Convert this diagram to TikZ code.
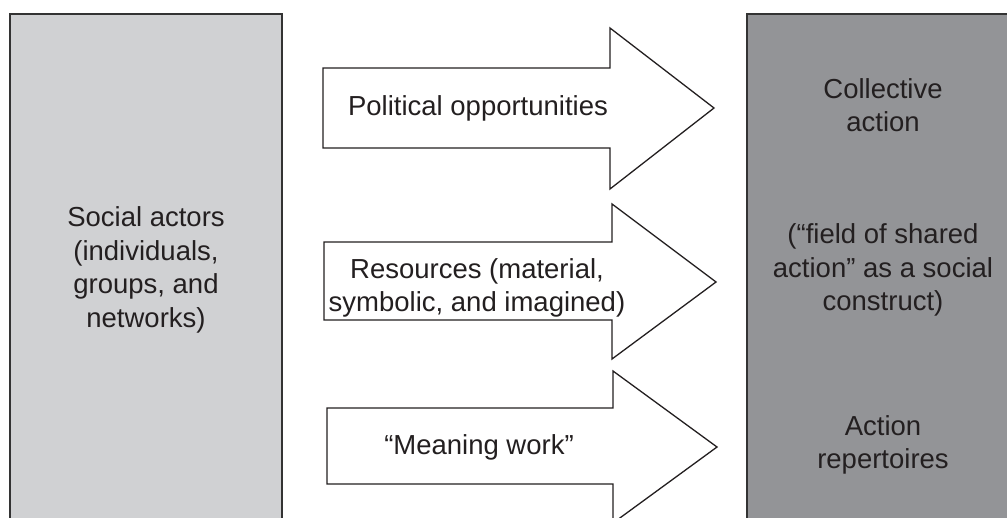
\documentclass[tikz,border=0pt]{standalone}
\usepackage{fontspec}
\setmainfont{Liberation Sans}
\definecolor{inkc}{HTML}{231F20}
\definecolor{lightbox}{HTML}{D0D1D3}
\definecolor{darkbox}{HTML}{939497}
\definecolor{edgec}{HTML}{333333}
\begin{document}
\begin{tikzpicture}[x=1pt,y=-1pt,
  boxstyle/.style={draw=edgec,line width=2pt},
  arrowshape/.style={draw=inkc,fill=white,line width=1.3pt,line join=miter},
  lbl/.style={text=inkc,align=center,font=\fontsize{27.5}{33.5}\selectfont,inner sep=0pt}]
\useasboundingbox (0,0) rectangle (1007,517);
\clip (0,0) rectangle (1007,517);
% boxes
\draw[boxstyle,fill=lightbox] (10,13.5) rectangle (282,530);
\draw[boxstyle,fill=darkbox] (747,14) rectangle (1020,530);
% arrows
\draw[arrowshape] (323,68) -- (610,68) -- (610,28) -- (714,108) -- (610,189) -- (610,148) -- (323,148) -- cycle;
\draw[arrowshape] (324,242) -- (612,242) -- (612,204) -- (716,282) -- (612,359) -- (612,320) -- (324,320) -- cycle;
\draw[arrowshape] (327,408) -- (613,408) -- (613,371) -- (717,447) -- (613,523) -- (613,484) -- (327,484) -- cycle;
% labels
\node[lbl] (actors) at (146,270) {Social actors\\(individuals,\\groups, and\\networks)};
\node[lbl] (collective) at (883,105) {Collective\\action};
\node[lbl] (field) at (883,270) {(“field of shared\\action” as a social\\construct)};
\node[lbl] (repert) at (883,445) {Action\\repertoires};
\node[lbl] (political) at (478,108) {Political opportunities};
\node[lbl] (resources) at (477,288) {Resources (material,\\symbolic, and imagined)};
\node[lbl] (meaning) at (479,447) {“Meaning work”};
\end{tikzpicture}
\end{document}
